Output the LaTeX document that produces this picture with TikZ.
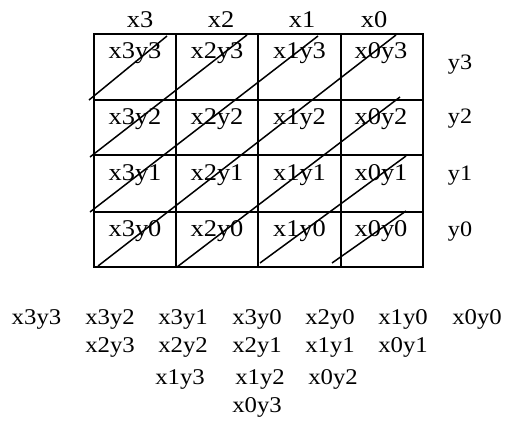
\documentclass[tikz,border=0pt]{standalone}
\usepackage{fontspec}
\setmainfont{Liberation Serif}
\usepackage{graphicx}
\usepackage{tikz}
\newcommand{\wide}[1]{\scalebox{1.1}[1]{#1}}

\begin{document}
\begin{tikzpicture}[
    x=1pt,y=-1pt,
    cell/.style={anchor=base,inner sep=0pt,font=\fontsize{24}{28}\selectfont},
    side/.style={anchor=base,inner sep=0pt,font=\fontsize{22}{26}\selectfont},
    term/.style={anchor=base,inner sep=0pt,font=\fontsize{22.5}{26}\selectfont},
    rule/.style={line width=2pt},
    diag/.style={line width=1.5pt}
  ]
    \useasboundingbox (0,0) rectangle (505,421);
    % the 4x4 table
    \draw[rule] (94,34) rectangle (423,267);
    \draw[rule] (176,34) -- (176,267) (258,34) -- (258,267) (341,34) -- (341,267);
    \draw[rule] (94,100) -- (423,100) (94,155) -- (423,155) (94,212) -- (423,212);
    % column and row heads
    \node[cell] (hx3) at (140,27) {\wide{x3}};
    \node[cell] (hx2) at (221,27) {\wide{x2}};
    \node[cell] (hx1) at (302,27) {\wide{x1}};
    \node[cell] (hx0) at (374,27) {\wide{x0}};
    \node[side] (hy3) at (460,69.5) {\wide{y3}};
    \node[side] (hy2) at (460,123) {\wide{y2}};
    \node[side] (hy1) at (460,180.5) {\wide{y1}};
    \node[side] (hy0) at (460,236.5) {\wide{y0}};
    % partial products
    \node[cell] (x3y3) at (135,58) {\wide{x3y3}};
    \node[cell] (x2y3) at (217,58) {\wide{x2y3}};
    \node[cell] (x1y3) at (299.5,58) {\wide{x1y3}};
    \node[cell] (x0y3) at (381,58) {\wide{x0y3}};
    \node[cell] (x3y2) at (135,124) {\wide{x3y2}};
    \node[cell] (x2y2) at (217,124) {\wide{x2y2}};
    \node[cell] (x1y2) at (299.5,124) {\wide{x1y2}};
    \node[cell] (x0y2) at (381,124) {\wide{x0y2}};
    \node[cell] (x3y1) at (135,180) {\wide{x3y1}};
    \node[cell] (x2y1) at (217,180) {\wide{x2y1}};
    \node[cell] (x1y1) at (299.5,180) {\wide{x1y1}};
    \node[cell] (x0y1) at (381,180) {\wide{x0y1}};
    \node[cell] (x3y0) at (135,236.5) {\wide{x3y0}};
    \node[cell] (x2y0) at (217,236.5) {\wide{x2y0}};
    \node[cell] (x1y0) at (299.5,236.5) {\wide{x1y0}};
    \node[cell] (x0y0) at (381,236.5) {\wide{x0y0}};
    % diagonals
    \draw[diag] (89,100) -- (167,36);
    \draw[diag] (90,157) -- (247,35);
    \draw[diag] (90,212) -- (318,36);
    \draw[diag] (98,266) -- (396,35);
    \draw[diag] (177,267) -- (400,97);
    \draw[diag] (260,263) -- (406,156);
    \draw[diag] (332,263) -- (406,211);
    % columns of the sum
    \node[term] (t33) at (36.5,324.5) {\wide{x3y3}};
    \node[term] (t32) at (110,324.5) {\wide{x3y2}};
    \node[term] (t31) at (183,324.5) {\wide{x3y1}};
    \node[term] (t30) at (257,324.5) {\wide{x3y0}};
    \node[term] (t20) at (330,324.5) {\wide{x2y0}};
    \node[term] (t10) at (403,324.5) {\wide{x1y0}};
    \node[term] (t00) at (477,324.5) {\wide{x0y0}};
    \node[term] (t23) at (110,352.5) {\wide{x2y3}};
    \node[term] (t22) at (183,352.5) {\wide{x2y2}};
    \node[term] (t21) at (257,352.5) {\wide{x2y1}};
    \node[term] (t11) at (330,352.5) {\wide{x1y1}};
    \node[term] (t01) at (403,352.5) {\wide{x0y1}};
    \node[term] (t13) at (180,384) {\wide{x1y3}};
    \node[term] (t12) at (260,384) {\wide{x1y2}};
    \node[term] (t02) at (333,384) {\wide{x0y2}};
    \node[term] (t03) at (257,412.5) {\wide{x0y3}};
  \end{tikzpicture}
\end{document}
